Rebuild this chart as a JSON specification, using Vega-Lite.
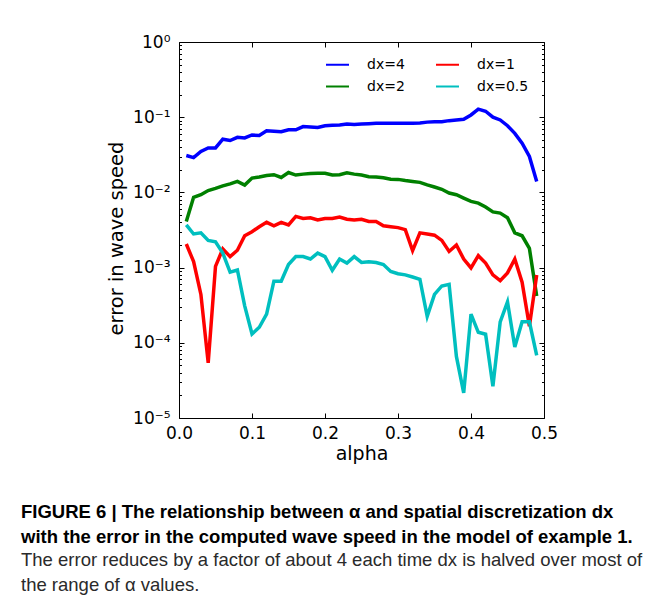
{
  "$schema": "https://vega.github.io/schema/vega-lite/v6.json",
  "width": 365,
  "height": 376,
  "autosize": {"type": "none"},
  "padding": {"left": 179, "top": 42, "right": 113, "bottom": 186},
  "background": "white",
  "config": {
    "view": {"stroke": "black", "strokeWidth": 1},
    "font": "DejaVu Sans",
    "axis": {"grid": false, "domain": false, "tickColor": "black", "labelColor": "black", "titleColor": "black", "labelFont": "DejaVu Sans", "titleFont": "DejaVu Sans", "labelFontSize": 17, "titleFontSize": 19, "titleFontWeight": "normal", "labelFlush": false}
  },
  "title": {
    "text": ["FIGURE 6 | The relationship between α and spatial discretization dx", "with the error in the computed wave speed in the model of example 1."],
    "subtitle": ["The error reduces by a factor of about 4 each time dx is halved over most of", "the range of α values."],
    "orient": "bottom",
    "anchor": "start",
    "frame": "group",
    "dx": -158,
    "offset": 40,
    "font": "Liberation Sans",
    "fontSize": 18.5,
    "fontWeight": "bold",
    "lineHeight": 24.5,
    "color": "black",
    "subtitleFont": "Liberation Sans",
    "subtitleFontSize": 18.5,
    "subtitleLineHeight": 24.5,
    "subtitleColor": "#2a2a2a",
    "subtitlePadding": 5
  },
  "data": {"values": [
    {"alpha":0.01,"err":0.031,"dx":"dx=4"},{"alpha":0.02,"err":0.029,"dx":"dx=4"},{"alpha":0.03,"err":0.035,"dx":"dx=4"},{"alpha":0.04,"err":0.039,"dx":"dx=4"},{"alpha":0.05,"err":0.039,"dx":"dx=4"},{"alpha":0.06,"err":0.051,"dx":"dx=4"},{"alpha":0.07,"err":0.049,"dx":"dx=4"},{"alpha":0.08,"err":0.054,"dx":"dx=4"},{"alpha":0.09,"err":0.053,"dx":"dx=4"},{"alpha":0.10,"err":0.058,"dx":"dx=4"},
    {"alpha":0.11,"err":0.057,"dx":"dx=4"},{"alpha":0.12,"err":0.066,"dx":"dx=4"},{"alpha":0.13,"err":0.065,"dx":"dx=4"},{"alpha":0.14,"err":0.064,"dx":"dx=4"},{"alpha":0.15,"err":0.068,"dx":"dx=4"},{"alpha":0.16,"err":0.068,"dx":"dx=4"},{"alpha":0.17,"err":0.075,"dx":"dx=4"},{"alpha":0.18,"err":0.074,"dx":"dx=4"},{"alpha":0.19,"err":0.073,"dx":"dx=4"},{"alpha":0.20,"err":0.077,"dx":"dx=4"},
    {"alpha":0.21,"err":0.078,"dx":"dx=4"},{"alpha":0.22,"err":0.079,"dx":"dx=4"},{"alpha":0.23,"err":0.081,"dx":"dx=4"},{"alpha":0.24,"err":0.080,"dx":"dx=4"},{"alpha":0.25,"err":0.081,"dx":"dx=4"},{"alpha":0.26,"err":0.082,"dx":"dx=4"},{"alpha":0.27,"err":0.083,"dx":"dx=4"},{"alpha":0.28,"err":0.083,"dx":"dx=4"},{"alpha":0.29,"err":0.083,"dx":"dx=4"},{"alpha":0.30,"err":0.083,"dx":"dx=4"},
    {"alpha":0.31,"err":0.083,"dx":"dx=4"},{"alpha":0.32,"err":0.083,"dx":"dx=4"},{"alpha":0.33,"err":0.084,"dx":"dx=4"},{"alpha":0.34,"err":0.086,"dx":"dx=4"},{"alpha":0.35,"err":0.087,"dx":"dx=4"},{"alpha":0.36,"err":0.087,"dx":"dx=4"},{"alpha":0.37,"err":0.090,"dx":"dx=4"},{"alpha":0.38,"err":0.092,"dx":"dx=4"},{"alpha":0.39,"err":0.094,"dx":"dx=4"},{"alpha":0.40,"err":0.107,"dx":"dx=4"},
    {"alpha":0.41,"err":0.128,"dx":"dx=4"},{"alpha":0.42,"err":0.120,"dx":"dx=4"},{"alpha":0.43,"err":0.100,"dx":"dx=4"},{"alpha":0.44,"err":0.092,"dx":"dx=4"},{"alpha":0.45,"err":0.077,"dx":"dx=4"},{"alpha":0.46,"err":0.061,"dx":"dx=4"},{"alpha":0.47,"err":0.045,"dx":"dx=4"},{"alpha":0.48,"err":0.030,"dx":"dx=4"},{"alpha":0.49,"err":0.014,"dx":"dx=4"},

    {"alpha":0.01,"err":0.0041,"dx":"dx=2"},{"alpha":0.02,"err":0.0086,"dx":"dx=2"},{"alpha":0.03,"err":0.0093,"dx":"dx=2"},{"alpha":0.04,"err":0.0106,"dx":"dx=2"},{"alpha":0.05,"err":0.0113,"dx":"dx=2"},{"alpha":0.06,"err":0.0122,"dx":"dx=2"},{"alpha":0.07,"err":0.013,"dx":"dx=2"},{"alpha":0.08,"err":0.014,"dx":"dx=2"},{"alpha":0.09,"err":0.0125,"dx":"dx=2"},{"alpha":0.10,"err":0.0155,"dx":"dx=2"},
    {"alpha":0.11,"err":0.016,"dx":"dx=2"},{"alpha":0.12,"err":0.0168,"dx":"dx=2"},{"alpha":0.13,"err":0.0172,"dx":"dx=2"},{"alpha":0.14,"err":0.0158,"dx":"dx=2"},{"alpha":0.15,"err":0.0184,"dx":"dx=2"},{"alpha":0.16,"err":0.017,"dx":"dx=2"},{"alpha":0.17,"err":0.0175,"dx":"dx=2"},{"alpha":0.18,"err":0.0178,"dx":"dx=2"},{"alpha":0.19,"err":0.018,"dx":"dx=2"},{"alpha":0.20,"err":0.018,"dx":"dx=2"},
    {"alpha":0.21,"err":0.017,"dx":"dx=2"},{"alpha":0.22,"err":0.0172,"dx":"dx=2"},{"alpha":0.23,"err":0.0182,"dx":"dx=2"},{"alpha":0.24,"err":0.0175,"dx":"dx=2"},{"alpha":0.25,"err":0.017,"dx":"dx=2"},{"alpha":0.26,"err":0.0162,"dx":"dx=2"},{"alpha":0.27,"err":0.016,"dx":"dx=2"},{"alpha":0.28,"err":0.0157,"dx":"dx=2"},{"alpha":0.29,"err":0.015,"dx":"dx=2"},{"alpha":0.30,"err":0.0149,"dx":"dx=2"},
    {"alpha":0.31,"err":0.0144,"dx":"dx=2"},{"alpha":0.32,"err":0.014,"dx":"dx=2"},{"alpha":0.33,"err":0.0136,"dx":"dx=2"},{"alpha":0.34,"err":0.0126,"dx":"dx=2"},{"alpha":0.35,"err":0.0118,"dx":"dx=2"},{"alpha":0.36,"err":0.011,"dx":"dx=2"},{"alpha":0.37,"err":0.0098,"dx":"dx=2"},{"alpha":0.38,"err":0.0093,"dx":"dx=2"},{"alpha":0.39,"err":0.0084,"dx":"dx=2"},{"alpha":0.40,"err":0.0076,"dx":"dx=2"},
    {"alpha":0.41,"err":0.0072,"dx":"dx=2"},{"alpha":0.42,"err":0.0064,"dx":"dx=2"},{"alpha":0.43,"err":0.0055,"dx":"dx=2"},{"alpha":0.44,"err":0.0053,"dx":"dx=2"},{"alpha":0.45,"err":0.0046,"dx":"dx=2"},{"alpha":0.46,"err":0.0029,"dx":"dx=2"},{"alpha":0.47,"err":0.00265,"dx":"dx=2"},{"alpha":0.48,"err":0.0018,"dx":"dx=2"},{"alpha":0.49,"err":0.00042,"dx":"dx=2"},

    {"alpha":0.01,"err":0.00206,"dx":"dx=1"},{"alpha":0.02,"err":0.0012,"dx":"dx=1"},{"alpha":0.03,"err":0.00044,"dx":"dx=1"},{"alpha":0.04,"err":0.000054,"dx":"dx=1"},{"alpha":0.05,"err":0.00104,"dx":"dx=1"},{"alpha":0.06,"err":0.00177,"dx":"dx=1"},{"alpha":0.07,"err":0.0014,"dx":"dx=1"},{"alpha":0.08,"err":0.0017,"dx":"dx=1"},{"alpha":0.09,"err":0.00265,"dx":"dx=1"},{"alpha":0.10,"err":0.003,"dx":"dx=1"},
    {"alpha":0.11,"err":0.0035,"dx":"dx=1"},{"alpha":0.12,"err":0.004,"dx":"dx=1"},{"alpha":0.13,"err":0.0036,"dx":"dx=1"},{"alpha":0.14,"err":0.004,"dx":"dx=1"},{"alpha":0.15,"err":0.0037,"dx":"dx=1"},{"alpha":0.16,"err":0.0048,"dx":"dx=1"},{"alpha":0.17,"err":0.0045,"dx":"dx=1"},{"alpha":0.18,"err":0.0046,"dx":"dx=1"},{"alpha":0.19,"err":0.0043,"dx":"dx=1"},{"alpha":0.20,"err":0.0045,"dx":"dx=1"},
    {"alpha":0.21,"err":0.0045,"dx":"dx=1"},{"alpha":0.22,"err":0.0047,"dx":"dx=1"},{"alpha":0.23,"err":0.0044,"dx":"dx=1"},{"alpha":0.24,"err":0.0043,"dx":"dx=1"},{"alpha":0.25,"err":0.0044,"dx":"dx=1"},{"alpha":0.26,"err":0.0041,"dx":"dx=1"},{"alpha":0.27,"err":0.0041,"dx":"dx=1"},{"alpha":0.28,"err":0.0036,"dx":"dx=1"},{"alpha":0.29,"err":0.0035,"dx":"dx=1"},{"alpha":0.30,"err":0.0034,"dx":"dx=1"},
    {"alpha":0.31,"err":0.0032,"dx":"dx=1"},{"alpha":0.32,"err":0.00168,"dx":"dx=1"},{"alpha":0.33,"err":0.0029,"dx":"dx=1"},{"alpha":0.34,"err":0.0028,"dx":"dx=1"},{"alpha":0.35,"err":0.0027,"dx":"dx=1"},{"alpha":0.36,"err":0.0023,"dx":"dx=1"},{"alpha":0.37,"err":0.00164,"dx":"dx=1"},{"alpha":0.38,"err":0.002,"dx":"dx=1"},{"alpha":0.39,"err":0.0013,"dx":"dx=1"},{"alpha":0.40,"err":0.00099,"dx":"dx=1"},
    {"alpha":0.41,"err":0.00144,"dx":"dx=1"},{"alpha":0.42,"err":0.00115,"dx":"dx=1"},{"alpha":0.43,"err":0.0008,"dx":"dx=1"},{"alpha":0.44,"err":0.00067,"dx":"dx=1"},{"alpha":0.45,"err":0.00085,"dx":"dx=1"},{"alpha":0.46,"err":0.0013,"dx":"dx=1"},{"alpha":0.47,"err":0.00064,"dx":"dx=1"},{"alpha":0.48,"err":0.000166,"dx":"dx=1"},{"alpha":0.49,"err":0.0008,"dx":"dx=1"},

    {"alpha":0.01,"err":0.0037,"dx":"dx=0.5"},{"alpha":0.02,"err":0.0028,"dx":"dx=0.5"},{"alpha":0.03,"err":0.0029,"dx":"dx=0.5"},{"alpha":0.04,"err":0.0023,"dx":"dx=0.5"},{"alpha":0.05,"err":0.0022,"dx":"dx=0.5"},{"alpha":0.06,"err":0.00156,"dx":"dx=0.5"},{"alpha":0.07,"err":0.00087,"dx":"dx=0.5"},{"alpha":0.08,"err":0.00093,"dx":"dx=0.5"},{"alpha":0.09,"err":0.00031,"dx":"dx=0.5"},{"alpha":0.10,"err":0.000131,"dx":"dx=0.5"},
    {"alpha":0.11,"err":0.000161,"dx":"dx=0.5"},{"alpha":0.12,"err":0.00024,"dx":"dx=0.5"},{"alpha":0.13,"err":0.00066,"dx":"dx=0.5"},{"alpha":0.14,"err":0.00066,"dx":"dx=0.5"},{"alpha":0.15,"err":0.0011,"dx":"dx=0.5"},{"alpha":0.16,"err":0.0014,"dx":"dx=0.5"},{"alpha":0.17,"err":0.0014,"dx":"dx=0.5"},{"alpha":0.18,"err":0.0013,"dx":"dx=0.5"},{"alpha":0.19,"err":0.00156,"dx":"dx=0.5"},{"alpha":0.20,"err":0.0014,"dx":"dx=0.5"},
    {"alpha":0.21,"err":0.00092,"dx":"dx=0.5"},{"alpha":0.22,"err":0.0013,"dx":"dx=0.5"},{"alpha":0.23,"err":0.00115,"dx":"dx=0.5"},{"alpha":0.24,"err":0.0014,"dx":"dx=0.5"},{"alpha":0.25,"err":0.00117,"dx":"dx=0.5"},{"alpha":0.26,"err":0.0012,"dx":"dx=0.5"},{"alpha":0.27,"err":0.00117,"dx":"dx=0.5"},{"alpha":0.28,"err":0.0011,"dx":"dx=0.5"},{"alpha":0.29,"err":0.00089,"dx":"dx=0.5"},{"alpha":0.30,"err":0.00083,"dx":"dx=0.5"},
    {"alpha":0.31,"err":0.0008,"dx":"dx=0.5"},{"alpha":0.32,"err":0.00075,"dx":"dx=0.5"},{"alpha":0.33,"err":0.0007,"dx":"dx=0.5"},{"alpha":0.34,"err":0.000225,"dx":"dx=0.5"},{"alpha":0.35,"err":0.00044,"dx":"dx=0.5"},{"alpha":0.36,"err":0.00057,"dx":"dx=0.5"},{"alpha":0.37,"err":0.0006,"dx":"dx=0.5"},{"alpha":0.38,"err":0.000066,"dx":"dx=0.5"},{"alpha":0.39,"err":0.0000216,"dx":"dx=0.5"},{"alpha":0.40,"err":0.00024,"dx":"dx=0.5"},
    {"alpha":0.41,"err":0.000138,"dx":"dx=0.5"},{"alpha":0.42,"err":0.00013,"dx":"dx=0.5"},{"alpha":0.43,"err":0.0000264,"dx":"dx=0.5"},{"alpha":0.44,"err":0.00019,"dx":"dx=0.5"},{"alpha":0.45,"err":0.00035,"dx":"dx=0.5"},{"alpha":0.46,"err":0.000088,"dx":"dx=0.5"},{"alpha":0.47,"err":0.00019,"dx":"dx=0.5"},{"alpha":0.48,"err":0.00019,"dx":"dx=0.5"},{"alpha":0.49,"err":0.000068,"dx":"dx=0.5"}
  ]},
  "layer": [
    {
      "mark": {"type": "line", "opacity": 0},
      "encoding": {
        "x": {"field": "alpha", "type": "quantitative", "scale": {"domain": [0, 0.5], "nice": false},
          "axis": {"orient": "top", "values": [0, 0.1, 0.2, 0.3, 0.4, 0.5], "labels": false, "title": null, "tickSize": -5}},
        "y": {"field": "err", "type": "quantitative", "scale": {"type": "log", "domain": [0.00001, 1], "nice": false},
          "axis": {"orient": "right", "labels": false, "title": null,
            "values": [0.00001,0.00002,0.00003,0.00004,0.00005,0.00006,0.00007,0.00008,0.00009,0.0001,0.0002,0.0003,0.0004,0.0005,0.0006,0.0007,0.0008,0.0009,0.001,0.002,0.003,0.004,0.005,0.006,0.007,0.008,0.009,0.01,0.02,0.03,0.04,0.05,0.06,0.07,0.08,0.09,0.1,0.2,0.3,0.4,0.5,0.6,0.7,0.8,0.9,1],
            "tickSize": {"condition": {"test": "abs(log(datum.value)/LN10 - round(log(datum.value)/LN10)) > 0.000001", "value": -2.5}, "value": -5}}}
      }
    },
    {
      "mark": {"type": "line", "strokeWidth": 3.5, "clip": true},
      "encoding": {
        "x": {"field": "alpha", "type": "quantitative",
          "axis": {"orient": "bottom", "values": [0, 0.1, 0.2, 0.3, 0.4, 0.5], "format": ".1f", "title": "alpha", "tickSize": -5, "labelPadding": 12, "titlePadding": 3}},
        "y": {"field": "err", "type": "quantitative",
          "axis": {"orient": "left", "title": "error in wave  speed", "titlePadding": 6, "labelPadding": 14, "titleY": 196, "titleFontSize": 19.5,
            "values": [0.00001,0.00002,0.00003,0.00004,0.00005,0.00006,0.00007,0.00008,0.00009,0.0001,0.0002,0.0003,0.0004,0.0005,0.0006,0.0007,0.0008,0.0009,0.001,0.002,0.003,0.004,0.005,0.006,0.007,0.008,0.009,0.01,0.02,0.03,0.04,0.05,0.06,0.07,0.08,0.09,0.1,0.2,0.3,0.4,0.5,0.6,0.7,0.8,0.9,1],
            "labelExpr": "abs(log(datum.value)/LN10 - round(log(datum.value)/LN10)) < 0.000001 ? ('10' + (round(log(datum.value)/LN10) == 0 ? '⁰' : '⁻' + ['', '¹', '²', '³', '⁴', '⁵'][-round(log(datum.value)/LN10)])) : ''",
            "tickSize": {"condition": {"test": "abs(log(datum.value)/LN10 - round(log(datum.value)/LN10)) > 0.000001", "value": -2.5}, "value": -5}}},
        "color": {"field": "dx", "type": "nominal",
          "scale": {"domain": ["dx=4", "dx=2", "dx=1", "dx=0.5"], "range": ["#0000ff", "#008000", "#ff0000", "#00bfbf"]},
          "legend": {"orient": "none", "legendX": 146, "legendY": 10, "title": null, "columns": 2, "columnPadding": 27, "rowPadding": 2,
            "symbolType": "stroke", "symbolSize": 529, "symbolStrokeWidth": 2, "labelFontSize": 14, "labelFont": "DejaVu Sans", "labelColor": "black", "labelOffset": 17, "padding": 0}}
      }
    }
  ],
  "resolve": {"axis": {"x": "independent", "y": "independent"}}
}
